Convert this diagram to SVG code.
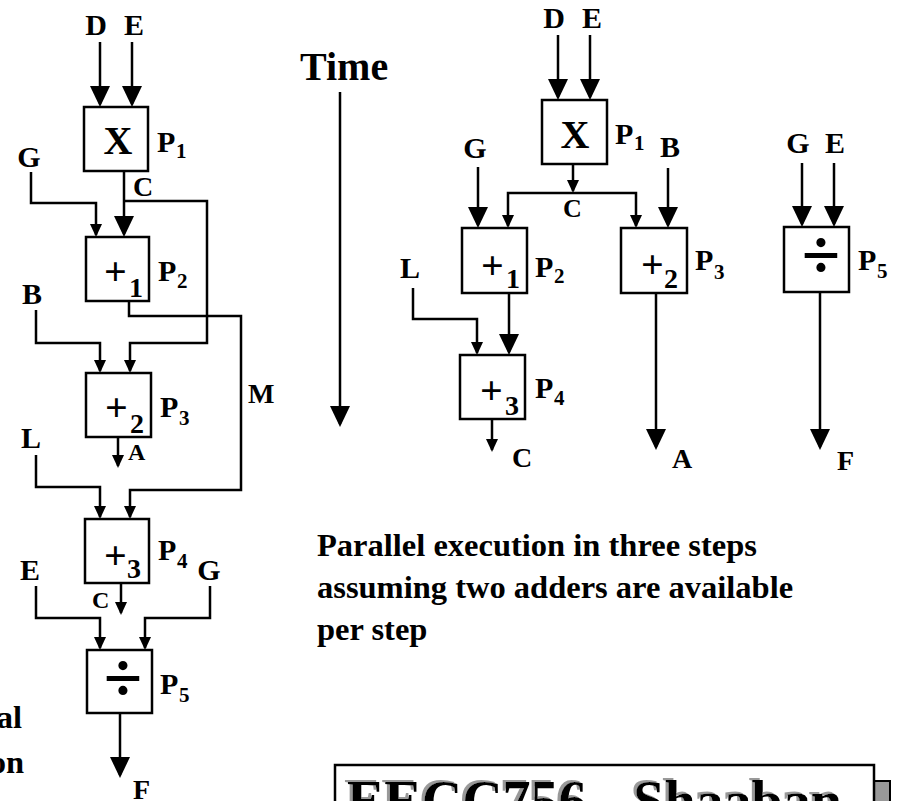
<svg xmlns="http://www.w3.org/2000/svg" width="897" height="801" viewBox="0 0 897 801">
<defs>
<style>
text{font-family:"Liberation Serif","Times New Roman",serif;font-weight:bold;fill:#000}
.lbl{font-size:30px}
.mid{text-anchor:middle}
.sub{font-size:21px}
.op{font-size:40px}
.opsub{font-size:28px}
.div{font-size:70px;text-anchor:middle}
.box{fill:#fff;stroke:#000;stroke-width:2.5}
.ln{fill:none;stroke:#000;stroke-width:2.5}
.big{marker-end:url(#ab)}
.sm{marker-end:url(#as)}
.para{font-size:32.5px}
</style>
<marker id="ab" markerUnits="userSpaceOnUse" viewBox="0 0 21 20" markerWidth="21" markerHeight="20" refX="18" refY="10" orient="auto"><path d="M0,0 L21,10 L0,20 z" fill="#000"/></marker>
<marker id="as" markerUnits="userSpaceOnUse" viewBox="0 0 13 12" markerWidth="13" markerHeight="12" refX="11" refY="6" orient="auto"><path d="M0,0 L13,6 L0,12 z" fill="#000"/></marker>
<filter id="tsh" x="-5%" y="-30%" width="110%" height="160%">
<feOffset in="SourceAlpha" dx="-3" dy="-2" result="o"/>
<feFlood flood-color="#999"/>
<feComposite in2="o" operator="in" result="s"/>
<feMerge><feMergeNode in="s"/><feMergeNode in="SourceGraphic"/></feMerge>
</filter>
</defs>
<rect width="897" height="801" fill="#fff"/>

<g id="connectors">
<!-- left (sequential) -->
<path class="ln big" d="M100,42 V104"/>
<path class="ln big" d="M132,42 V104"/>
<path class="ln big" d="M124,171 V234"/>
<path class="ln sm" d="M124,201 H207 V343 H130 V371"/>
<path class="ln sm" d="M31,172 V203 H96 V235"/>
<path class="ln sm" d="M36,310 V343 H100 V371"/>
<path class="ln sm" d="M129,301 V316 H241 V490 H130 V517"/>
<path class="ln sm" d="M118,437 V466"/>
<path class="ln sm" d="M36,455 V487 H100 V517"/>
<path class="ln sm" d="M121,583 V613"/>
<path class="ln sm" d="M36,586 V618 H100 V648"/>
<path class="ln sm" d="M210,586 V618 H145 V648"/>
<path class="ln big" d="M120,713 V775"/>
<!-- time -->
<path class="ln big" d="M340,92 V424"/>
<!-- right (parallel) -->
<path class="ln big" d="M558,35 V97"/>
<path class="ln big" d="M590,35 V97"/>
<path class="ln sm" d="M573,164 V191"/>
<path class="ln sm" d="M573,193 H508 V226"/>
<path class="ln sm" d="M573,193 H636 V226"/>
<path class="ln big" d="M478,167 V225"/>
<path class="ln sm" d="M413,288 V319 H477 V353"/>
<path class="ln big" d="M509,293 V352"/>
<path class="ln sm" d="M492,419 V450"/>
<path class="ln big" d="M668,168 V225"/>
<path class="ln big" d="M656,293 V447"/>
<path class="ln big" d="M802,163 V224"/>
<path class="ln big" d="M834,163 V224"/>
<path class="ln big" d="M820,292 V447"/>
</g>

<!-- left nodes -->
<g id="L-P1">
<rect class="box" x="84" y="107" width="64" height="64"/>
<text class="op mid" x="118" y="154">X</text>
<text class="lbl" x="157" y="152">P</text><text class="sub" x="176" y="158">1</text>
</g>
<g id="L-P2">
<rect class="box" x="86" y="237" width="63" height="64"/>
<text class="op" x="104" y="285">+</text><text class="opsub" x="129" y="297">1</text>
<text class="lbl" x="158" y="281">P</text><text class="sub" x="177" y="288">2</text>
</g>
<g id="L-P3">
<rect class="box" x="86" y="373" width="65" height="64"/>
<text class="op" x="105" y="421">+</text><text class="opsub" x="130" y="433">2</text>
<text class="lbl" x="160" y="417">P</text><text class="sub" x="179" y="425">3</text>
</g>
<g id="L-P4">
<rect class="box" x="85" y="519" width="64" height="64"/>
<text class="op" x="104" y="569">+</text><text class="opsub" x="127" y="578">3</text>
<text class="lbl" x="158" y="560">P</text><text class="sub" x="177" y="568">4</text>
</g>
<g id="L-P5">
<rect class="box" x="87" y="650" width="65" height="63"/>
<text class="div" x="123" y="701">÷</text>
<text class="lbl" x="160" y="694">P</text><text class="sub" x="179" y="702">5</text>
</g>
<g id="L-labels">
<text class="lbl mid" x="96" y="35">D</text>
<text class="lbl mid" x="134" y="35">E</text>
<text class="lbl mid" x="29" y="167">G</text>
<text class="mid" style="font-size:28px" x="143" y="196">C</text>
<text class="lbl mid" x="32" y="304">B</text>
<text style="font-size:28px" x="248" y="403">M</text>
<text style="font-size:24px" x="128" y="460">A</text>
<text class="lbl mid" x="31" y="448">L</text>
<text class="lbl mid" x="30" y="580">E</text>
<text class="lbl mid" x="209" y="580">G</text>
<text style="font-size:24px" x="92" y="608">C</text>
<text style="font-size:28px" x="133" y="799">F</text>
<text class="para" x="22" y="728" text-anchor="end">al</text>
<text class="para" x="24" y="773" text-anchor="end">on</text>
</g>

<g id="time">
<text style="font-size:40px" x="300" y="80">Time</text>
</g>

<!-- right nodes -->
<g id="R-P1">
<rect class="box" x="542" y="100" width="65" height="64"/>
<text class="op mid" x="575" y="148">X</text>
<text class="lbl" x="615" y="144">P</text><text class="sub" x="634" y="150">1</text>
</g>
<g id="R-P2">
<rect class="box" x="462" y="228" width="65" height="65"/>
<text class="op" x="481" y="279">+</text><text class="opsub" x="506" y="288">1</text>
<text class="lbl" x="535" y="277">P</text><text class="sub" x="554" y="283">2</text>
</g>
<g id="R-P4">
<rect class="box" x="460" y="355" width="65" height="64"/>
<text class="op" x="480" y="404">+</text><text class="opsub" x="505" y="415">3</text>
<text class="lbl" x="535" y="398">P</text><text class="sub" x="554" y="405">4</text>
</g>
<g id="R-P3">
<rect class="box" x="621" y="228" width="66" height="65"/>
<text class="op" x="641" y="278">+</text><text class="opsub" x="664" y="288">2</text>
<text class="lbl" x="695" y="270">P</text><text class="sub" x="714" y="279">3</text>
</g>
<g id="R-P5">
<rect class="box" x="784" y="227" width="65" height="65"/>
<text class="div" x="821" y="278">÷</text>
<text class="lbl" x="858" y="270">P</text><text class="sub" x="877" y="278">5</text>
</g>
<g id="R-labels">
<text class="lbl mid" x="554" y="28">D</text>
<text class="lbl mid" x="592" y="28">E</text>
<text style="font-size:26px" x="563" y="217">C</text>
<text class="lbl mid" x="475" y="158">G</text>
<text class="lbl mid" x="410" y="278">L</text>
<text style="font-size:28px" x="512" y="467">C</text>
<text class="lbl mid" x="670" y="157">B</text>
<text style="font-size:28px" x="672" y="468">A</text>
<text class="lbl mid" x="798" y="153">G</text>
<text class="lbl mid" x="835" y="153">E</text>
<text style="font-size:28px" x="837" y="470">F</text>
</g>

<g id="caption">
<text class="para" x="317" y="556">Parallel execution in three steps</text>
<text class="para" x="317" y="598">assuming two adders are available</text>
<text class="para" x="317" y="640">per step</text>
</g>

<g id="banner">
<rect x="350" y="781" width="540" height="40" fill="#999" stroke="#000" stroke-width="2"/>
<rect x="335" y="765" width="539" height="50" fill="#fff" stroke="#000" stroke-width="2.5"/>
<text x="347" y="820" style="font-size:56px" filter="url(#tsh)">EECC756 - Shaaban</text>
</g>
</svg>
